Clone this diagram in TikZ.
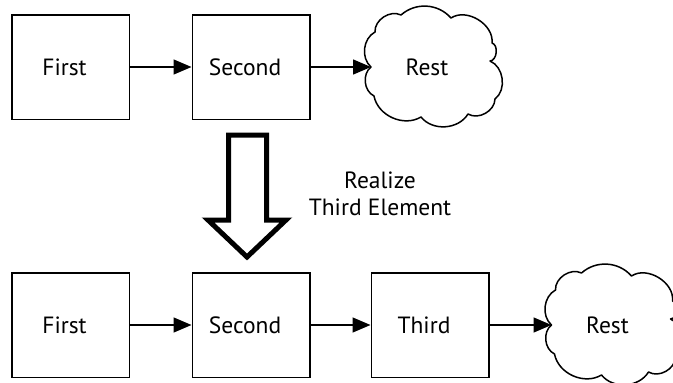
\documentclass[tikz,border=0pt]{standalone}
\usepackage{fontspec}
\setmainfont{PT Sans}
\usetikzlibrary{arrows.meta}

\begin{document}
\begin{tikzpicture}[x=1pt,y=-1pt,
  every node/.style={font=\fontsize{23.5}{27}\selectfont},
  box/.style={draw,line width=1.5pt,minimum width=117.5pt,minimum height=104.5pt,
    inner sep=0pt,execute at end node={\hspace*{12pt}}},
  label/.style={inner sep=0pt,execute at end node={\hspace*{12pt}}},
  link/.style={line width=1.5pt,-{Triangle[length=18pt,width=15pt]}},
  bigarrow/.style={line width=5pt,line join=miter},
  puffcloud/.pic={
    % outline of a cloud built from round arcs between its notches
    \draw[line width=1.5pt,line join=round,line cap=round]
      (-62,0) to[bend left=55] (-58,-35) to[bend left=60] (-32,-52)
      to[bend left=45] (18,-49) to[bend left=65] (59,-24)
      to[bend left=80] (57,-6) to[bend left=60] (62,32)
      to[bend left=60] (35,47) to[bend left=55] (-12,50)
      to[bend left=55] (-59,29) to[bend left=58] (-62,0);
    \coordinate (-w) at (-62,0);
  }]
\useasboundingbox (0,0) rectangle (673,383);

% upper chain: first, second, rest
\node[box] (f1) at (70.5,67) {First};
\node[box] (s1) at (251,67) {Second};
\node[label] (r1) at (433,67) {Rest};
\pic (c1) at (r1.center) {puffcloud};
\draw[link] (f1) -- (s1);
\draw[link] (s1) -- (c1-w);

% hollow block arrow between the two chains
\draw[bigarrow] (228.5,135) -- (266.5,135) -- (266.5,220) -- (286,220)
  -- (247,257) -- (208,220) -- (228.5,220) -- cycle;
\node[align=center] (note) at (380,194) {Realize\\Third Element};

% lower chain: first, second, third, rest
\node[box] (f2) at (70.5,325) {First};
\node[box] (s2) at (251,325) {Second};
\node[box] (t2) at (430,325) {Third};
\node[label] (r2) at (613.5,325) {Rest};
\pic (c2) at (r2.center) {puffcloud};
\draw[link] (f2) -- (s2);
\draw[link] (s2) -- (t2);
\draw[link] (t2) -- (c2-w);
\end{tikzpicture}
\end{document}
